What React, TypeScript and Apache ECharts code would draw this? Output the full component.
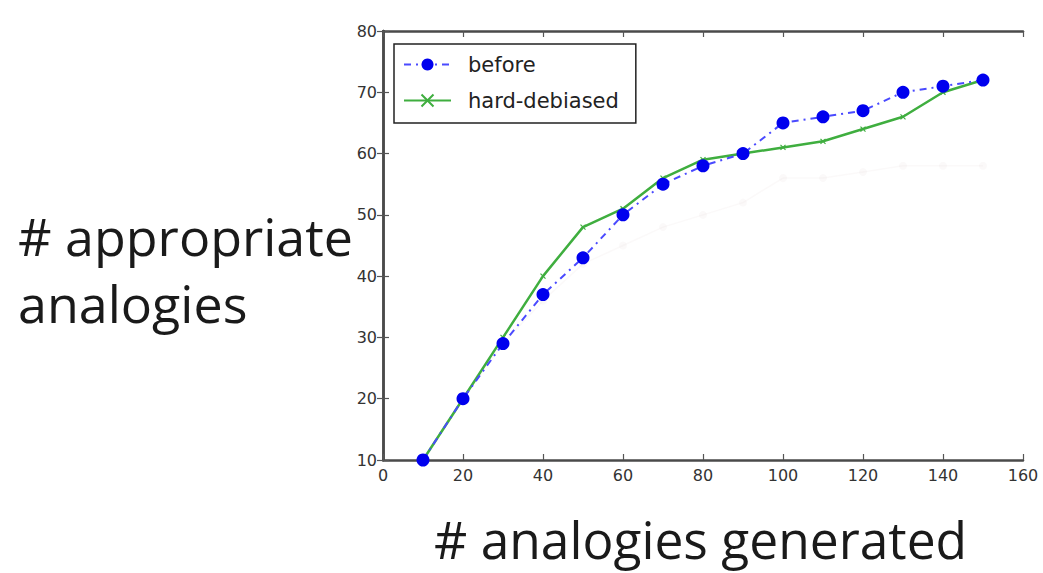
import React, { useEffect, useRef } from "react";
import * as echarts from "echarts";

const xValues = [10, 20, 30, 40, 50, 60, 70, 80, 90, 100, 110, 120, 130, 140, 150];
const beforeValues = [10, 20, 29, 37, 43, 50, 55, 58, 60, 65, 66, 67, 70, 71, 72];
const debiasedValues = [10, 20, 30, 40, 48, 51, 56, 59, 60, 61, 62, 64, 66, 70, 72];
const faintValues = [10, 20, 29, 36, 42, 45, 48, 50, 52, 56, 56, 57, 58, 58, 58];
const seriesNames = ["before", "hard-debiased"];
const yTitleLines = ["# appropriate", "analogies"];
const xTitle = "# analogies generated";

const toPairs = (vals: number[]) => xValues.map((x, i) => [x, vals[i]]);

export default function App() {
  const ref = useRef<HTMLDivElement>(null);
  useEffect(() => {
    document.body.style.margin = "0";
    const chart = echarts.init(ref.current!, null, { renderer: "svg" });
    const axisLine = { show: true, lineStyle: { color: "#4a4a4a", width: 2.5 } };
    const tick = { show: true, inside: true, length: 6, lineStyle: { color: "#555", width: 1.2 } };
    const labelStyle = { fontFamily: "DejaVu Sans", fontSize: 16, color: "#333" };
    chart.setOption({
      animation: false,
      backgroundColor: "#fff",
      grid: { left: 383, right: 20, top: 31, bottom: 113, containLabel: false },
      xAxis: [
        {
          type: "value", min: 0, max: 160, interval: 20, position: "bottom",
          axisLine, axisTick: tick, splitLine: { show: false },
          axisLabel: { ...labelStyle, margin: 7 },
        },
        {
          type: "value", min: 0, max: 160, interval: 20, position: "top",
          axisLine, axisTick: tick, splitLine: { show: false }, axisLabel: { show: false },
        },
      ],
      yAxis: [
        {
          type: "value", min: 10, max: 80, interval: 10, position: "left",
          axisLine, axisTick: tick, splitLine: { show: false },
          axisLabel: { ...labelStyle, margin: 6 },
        },
        {
          type: "value", min: 10, max: 80, interval: 10, position: "right",
          axisLine, axisTick: tick, splitLine: { show: false }, axisLabel: { show: false },
        },
      ],
      legend: {
        data: seriesNames,
        orient: "vertical",
        left: 394,
        top: 44,
        padding: [10, 17, 12, 9],
        itemGap: 15,
        itemWidth: 47,
        itemHeight: 15,
        borderColor: "#222",
        borderWidth: 1.5,
        borderRadius: 0,
        backgroundColor: "#fff",
        textStyle: { fontFamily: "DejaVu Sans", fontSize: 21, color: "#222", padding: [0, 0, 0, 12] },
      },
      series: [
        {
          name: "faint",
          type: "line",
          data: toPairs(faintValues),
          symbol: "circle",
          symbolSize: 8,
          lineStyle: { color: "rgba(225,215,215,0.15)", width: 1.5 },
          itemStyle: { color: "rgba(225,215,215,0.15)" },
          z: 1,
        },
        {
          name: seriesNames[0],
          type: "line",
          data: toPairs(beforeValues),
          symbol: "circle",
          symbolSize: 13,
          lineStyle: { color: "#4a4aff", width: 2, type: [7, 5, 2, 5] },
          itemStyle: { color: "#0000ee" },
          z: 3,
        },
        {
          name: seriesNames[1],
          type: "line",
          data: toPairs(debiasedValues),
          symbol: "path://M0,0L10,10M10,0L0,10",
          symbolSize: 5,
          lineStyle: { color: "#3fae3f", width: 2.5 },
          itemStyle: { color: "#3fae3f", borderColor: "#3fae3f", borderWidth: 1.2 },
          z: 2,
        },
      ],
      graphic: [
        ...yTitleLines.map((t, i) => ({
          type: "text",
          left: 18,
          top: 209 + i * 67,
          style: { text: t, fontFamily: "Open Sans", fontSize: 52, fontWeight: 500, fill: "#1a1a1a" },
        })),
        {
          type: "text",
          left: 434,
          top: 513,
          style: { text: xTitle, fontFamily: "Open Sans", fontSize: 51.5, fontWeight: 500, fill: "#1a1a1a" },
        },
      ],
    });
    return () => chart.dispose();
  }, []);
  return <div ref={ref} style={{ width: 1043, height: 573 }} />;
}
